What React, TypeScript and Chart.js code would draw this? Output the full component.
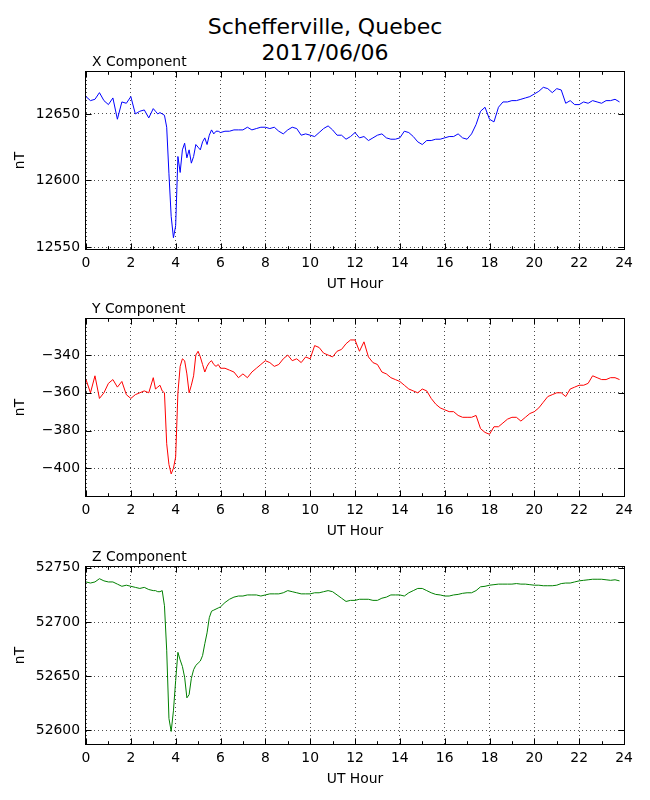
import { useEffect, useRef } from "react";
import { Chart, registerables } from "chart.js";

Chart.register(...registerables);

// UT hours of the samples (finer around the 04 UT substorm)
const hours = [
  0, 0.2, 0.4, 0.6, 0.8, 1, 1.2, 1.4, 1.6, 1.8, 2, 2.2, 2.4, 2.6, 2.8, 3,
  3.1, 3.2, 3.3, 3.4, 3.5, 3.6, 3.7, 3.8, 3.9, 4, 4.1, 4.2, 4.3, 4.4, 4.5,
  4.6, 4.7, 4.8, 4.9, 5, 5.1, 5.2, 5.3, 5.4, 5.5, 5.6, 5.7, 5.8, 5.9, 6,
  6.2, 6.4, 6.6, 6.8, 7, 7.2, 7.4, 7.6, 7.8, 8, 8.2, 8.4, 8.6, 8.8, 9,
  9.2, 9.4, 9.6, 9.8, 10, 10.2, 10.4, 10.6, 10.8, 11, 11.2, 11.4, 11.6, 11.8, 12,
  12.2, 12.4, 12.6, 12.8, 13, 13.2, 13.4, 13.6, 13.8, 14, 14.2, 14.4, 14.6, 14.8, 15,
  15.2, 15.4, 15.6, 15.8, 16, 16.2, 16.4, 16.6, 16.8, 17, 17.2, 17.4, 17.6, 17.8, 18,
  18.2, 18.4, 18.6, 18.8, 19, 19.2, 19.4, 19.6, 19.8, 20, 20.2, 20.4, 20.6, 20.8, 21,
  21.2, 21.4, 21.6, 21.8, 22, 22.2, 22.4, 22.6, 22.8, 23, 23.2, 23.4, 23.6, 23.8,
];

const xComponent = [
  12663, 12660, 12661, 12666, 12660, 12657, 12662, 12646, 12659, 12658, 12663, 12650, 12652, 12653, 12647, 12654,
  12652, 12650, 12651, 12650, 12649, 12640, 12605, 12573, 12557, 12566, 12618, 12606, 12623, 12628, 12617,
  12623, 12613, 12618, 12627, 12625, 12623, 12629, 12632, 12627, 12634, 12638, 12635, 12637, 12637, 12636,
  12637, 12637, 12638, 12638, 12638, 12640, 12638, 12639, 12640, 12640, 12639, 12640, 12637, 12635, 12638,
  12640, 12639, 12634, 12635, 12634, 12633, 12636, 12639, 12641, 12638, 12634, 12634, 12631, 12633, 12636,
  12632, 12633, 12630, 12632, 12634, 12635, 12632, 12631, 12631, 12632, 12637, 12636, 12633, 12629, 12627,
  12630, 12630, 12631, 12631, 12632, 12633, 12633, 12635, 12632, 12631, 12635, 12642, 12652, 12655, 12646,
  12644, 12655, 12659, 12659, 12660, 12660, 12661, 12662, 12663, 12665, 12667, 12670, 12669, 12666, 12669,
  12668, 12658, 12660, 12657, 12657, 12659, 12658, 12660, 12659, 12658, 12660, 12660, 12661, 12659,
];

const yComponent = [
  -353, -360, -351, -363, -360, -355, -353, -357, -354, -361, -363, -361, -360, -359, -360, -352,
  -358, -357, -356, -359, -360, -387, -398, -403, -400, -394, -360, -346, -342, -343, -350,
  -360, -356, -351, -340, -338, -341, -345, -349, -346, -344, -343, -345, -346, -345, -347,
  -347, -348, -349, -352, -350, -352, -349, -347, -345, -343, -344, -346, -345, -342, -340,
  -343, -342, -344, -341, -342, -335, -336, -339, -340, -341, -338, -337, -334, -332, -332,
  -338, -333, -341, -344, -345, -349, -350, -352, -353, -354, -356, -358, -359, -360, -358,
  -359, -363, -366, -368, -369, -370, -370, -372, -373, -373, -373, -372, -379, -381, -382,
  -378, -378, -376, -374, -373, -373, -375, -373, -371, -370, -368, -365, -362, -361, -360,
  -360, -362, -358, -357, -356, -356, -355, -351, -352, -353, -353, -352, -352, -353,
];

const zComponent = [
  52737, 52736, 52737, 52740, 52738, 52737, 52737, 52735, 52733, 52734, 52733, 52732, 52731, 52732, 52730, 52729,
  52729, 52728, 52728, 52729, 52715, 52674, 52611, 52599, 52618, 52646, 52672, 52665, 52659, 52649, 52630,
  52633, 52648, 52656, 52660, 52662, 52664, 52669, 52680, 52690, 52704, 52710, 52711, 52712, 52713, 52714,
  52718, 52721, 52723, 52724, 52724, 52725, 52725, 52725, 52724, 52725, 52726, 52726, 52726, 52727, 52729,
  52728, 52727, 52726, 52726, 52726, 52727, 52727, 52728, 52729, 52728, 52725, 52722, 52719, 52720, 52720,
  52721, 52721, 52721, 52720, 52720, 52722, 52723, 52725, 52725, 52725, 52724, 52727, 52729, 52731, 52731,
  52729, 52727, 52725.5, 52725, 52724, 52724, 52725, 52725.5, 52726.5, 52727, 52727, 52729, 52732.5, 52733, 52734,
  52734.5, 52735, 52735, 52735, 52735, 52735.5, 52735, 52735, 52734.5, 52734, 52734, 52733.5, 52733.5, 52733.5, 52734,
  52735.5, 52736, 52736, 52737, 52738, 52738.5, 52739, 52739.5, 52739.5, 52739.5, 52739, 52738.5, 52739, 52738,
];

const hourTicks = [0, 2, 4, 6, 8, 10, 12, 14, 16, 18, 20, 22, 24];
const hourMinorTicks = [1, 3, 5, 7, 9, 11, 13, 15, 17, 19, 21, 23];
const xTicks = [12550, 12600, 12650];
const yTicks = [-400, -380, -360, -340];
const zTicks = [52600, 52650, 52700, 52750];

const FONT = "DejaVu Sans";
const FONT_SIZE = 13.9;
const PAD_TOP = 24;
const PLOT_H = 177;
const AXIS_H = 50;

Chart.defaults.font.family = FONT;
Chart.defaults.color = "#000";

const fmt = (v: number) => (v < 0 ? "\u2212" + Math.abs(v) : String(v));

// matplotlib-like frame: box, inward ticks on all sides, panel label
const framePlugin = {
  id: "frame",
  afterDatasetsDraw(chart: any, _args: any, opts: any) {
    const { ctx, chartArea: a } = chart;
    const sx = chart.scales.x;
    const sy = chart.scales.y;
    const seg = (x1: number, y1: number, x2: number, y2: number) => {
      ctx.beginPath();
      ctx.moveTo(x1, y1);
      ctx.lineTo(x2, y2);
      ctx.stroke();
    };
    ctx.save();
    ctx.strokeStyle = "#000";
    ctx.lineWidth = 1;
    hourTicks.forEach((v) => {
      const p = Math.round(sx.getPixelForValue(v)) + 0.5;
      seg(p, a.bottom, p, a.bottom - 5.6);
      seg(p, a.top, p, a.top + 5.6);
    });
    hourMinorTicks.forEach((v) => {
      const p = Math.round(sx.getPixelForValue(v)) + 0.5;
      seg(p, a.bottom, p, a.bottom - 2.8);
      seg(p, a.top, p, a.top + 2.8);
    });
    sy.ticks.forEach((t: any) => {
      const p = Math.round(sy.getPixelForValue(t.value)) + 0.5;
      seg(a.left, p, a.left + 5.6, p);
      seg(a.right, p, a.right - 5.6, p);
    });
    ctx.strokeRect(a.left - 0.5, a.top - 0.5, a.right - a.left + 1, a.bottom - a.top + 1);
    ctx.fillStyle = "#000";
    ctx.font = `${FONT_SIZE}px "${FONT}"`;
    ctx.textAlign = "left";
    ctx.textBaseline = "alphabetic";
    ctx.fillText(opts.label, a.left + 6, a.top - 6.3);
    ctx.restore();
  },
};

type PanelProps = {
  top: number;
  label: string;
  values: number[];
  color: string;
  min: number;
  max: number;
  ticks: number[];
};

function Panel({ top, label, values, color, min, max, ticks }: PanelProps) {
  const canvasRef = useRef<HTMLCanvasElement>(null);

  useEffect(() => {
    if (!canvasRef.current) return;
    const font = { family: FONT, size: FONT_SIZE };

    const chart = new Chart(canvasRef.current, {
      type: "line",
      data: {
        datasets: [
          {
            data: hours.map((h, i) => ({ x: h, y: values[i] })),
            borderColor: color,
            borderWidth: 1,
            pointRadius: 0,
            fill: false,
            tension: 0,
          },
        ],
      },
      options: {
        animation: false,
        responsive: true,
        maintainAspectRatio: false,
        events: [],
        layout: { padding: { top: PAD_TOP, right: 26, left: 0, bottom: 0 } },
        plugins: {
          legend: { display: false },
          tooltip: { enabled: false },
          frame: { label },
        } as any,
        scales: {
          x: {
            type: "linear",
            min: 0,
            max: 24,
            afterBuildTicks: (s: any) => {
              s.ticks = hourTicks.map((v) => ({ value: v }));
            },
            afterFit: (s: any) => {
              s.height = AXIS_H;
            },
            grid: { color: "#000", lineWidth: 0.7, drawTicks: false },
            border: { display: false, dash: [1, 3] },
            ticks: { color: "#000", font, padding: 6, maxRotation: 0, autoSkip: false },
            title: {
              display: true,
              text: "UT Hour",
              color: "#000",
              font,
              padding: { top: 0, bottom: 6.5 },
            },
          },
          y: {
            type: "linear",
            min,
            max,
            afterBuildTicks: (s: any) => {
              s.ticks = ticks.map((v) => ({ value: v }));
            },
            afterFit: (s: any) => {
              s.width = 86;
            },
            grid: { color: "#000", lineWidth: 0.7, drawTicks: false },
            border: { display: false, dash: [1, 3] },
            ticks: { color: "#000", font, padding: 6, callback: (v: any) => fmt(Number(v)) },
            title: {
              display: true,
              text: "nT",
              color: "#000",
              font,
              padding: { top: 11.7, bottom: 0 },
            },
          },
        },
      },
      plugins: [framePlugin],
    });

    return () => chart.destroy();
  }, [label, values, color, min, max, ticks]);

  return (
    <div
      style={{
        position: "absolute",
        left: 0,
        top: top - PAD_TOP,
        width: 650,
        height: PAD_TOP + PLOT_H + AXIS_H,
      }}
    >
      <canvas ref={canvasRef} />
    </div>
  );
}

export default function App() {
  return (
    <div
      style={{
        position: "absolute",
        left: 0,
        top: 0,
        width: 650,
        height: 800,
        background: "#fff",
        fontFamily: FONT,
      }}
    >
      <div
        style={{
          position: "absolute",
          top: 14,
          left: 0,
          width: 650,
          textAlign: "center",
          fontSize: 22,
          lineHeight: "25.7px",
        }}
      >
        Schefferville, Quebec
        <br />
        2017/06/06
      </div>
      <Panel top={72} label="X Component" values={xComponent} color="#0000ff" min={12548.5} max={12681.5} ticks={xTicks} />
      <Panel top={319} label="Y Component" values={yComponent} color="#ff0000" min={-414.7} max={-320.9} ticks={yTicks} />
      <Panel top={567} label="Z Component" values={zComponent} color="#008000" min={52587.4} max={52750.8} ticks={zTicks} />
    </div>
  );
}
